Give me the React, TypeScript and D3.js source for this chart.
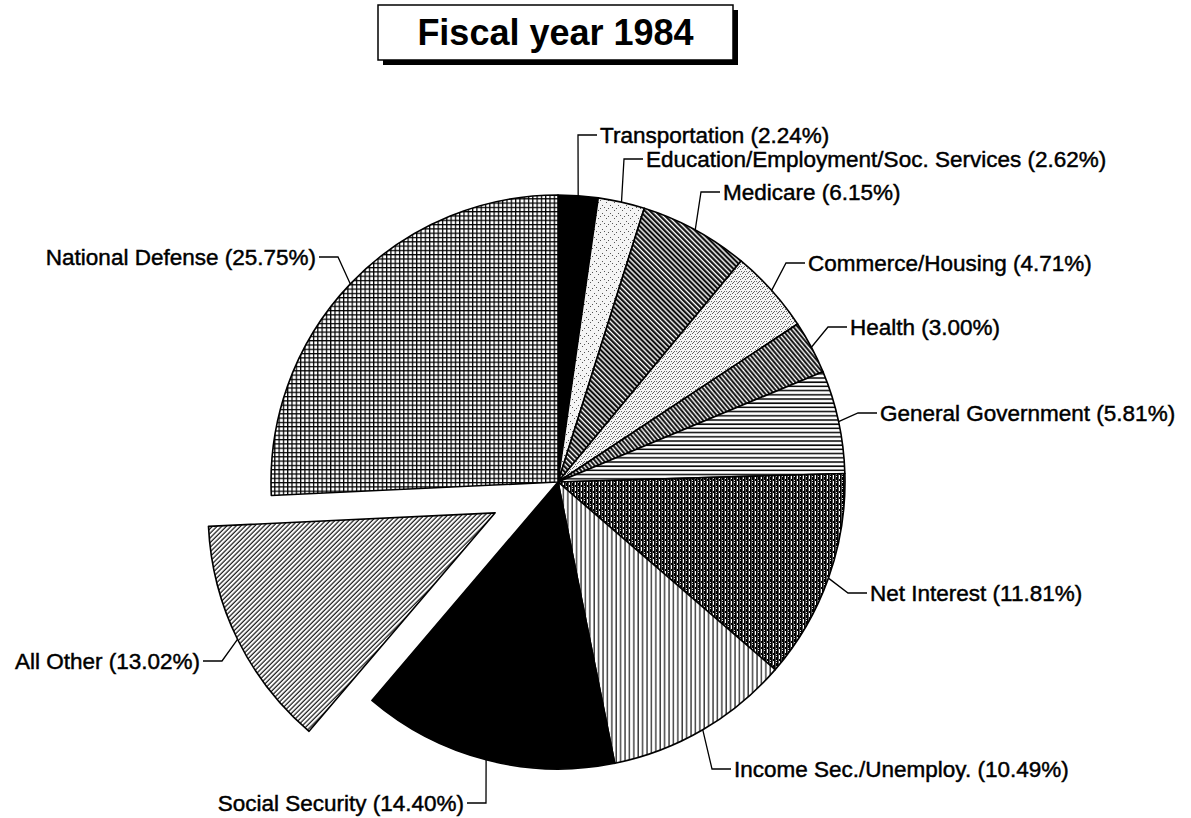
import React from 'react';
import * as d3 from 'd3';

const categories = [
  'Transportation',
  'Education/Employment/Soc. Services',
  'Medicare',
  'Commerce/Housing',
  'Health',
  'General Government',
  'Net Interest',
  'Income Sec./Unemploy.',
  'Social Security',
  'All Other',
  'National Defense',
];
const shares = [2.24, 2.62, 6.15, 4.71, 3.0, 5.81, 11.81, 10.49, 14.4, 13.02, 25.75];
const explodedCategories = ['All Other'];
const title = 'Fiscal year 1984';

// fill pattern per slice (layout/style)
const fills = [
  '#000',
  'url(#stippleA)',
  'url(#hatchDark)',
  'url(#stippleB)',
  'url(#hatchHealth)',
  'url(#horiz)',
  'url(#netInt)',
  'url(#vert)',
  '#000',
  'url(#diagFwd)',
  'url(#grid)',
];

// label elbow positions (layout)
const labelLayout = [
  { ex: 578, ey: 135, side: 1 },
  { ex: 624, ey: 159, side: 1 },
  { ex: 701, ey: 192, side: 1 },
  { ex: 786, ey: 263, side: 1 },
  { ex: 828, ey: 327, side: 1 },
  { ex: 858, ey: 413, side: 1 },
  { ex: 848, ey: 593, side: 1 },
  { ex: 712, ey: 769, side: 1 },
  { ex: 486, ey: 803, side: -1 },
  { ex: 222, ey: 661, side: -1 },
  { ex: 338, ey: 257, side: -1 },
];

const W = 1191;
const H = 818;
const cx = 558;
const cy = 482;
const R = 287;
const explodeDist = 70;
const FONT = "'Liberation Sans', Arial, Helvetica, sans-serif";

export default function App() {
  const pie = d3.pie<number>().sort(null).value((d) => d);
  const arcs = pie(shares);
  const arcGen = d3.arc<d3.PieArcDatum<number>>().innerRadius(0).outerRadius(R);

  const stippleA: [number, number][] = [[0, 0], [4, 3], [2, 6], [6, 5]];
  const stippleB: [number, number][] = [[0, 0], [2, 2], [4, 1], [1, 4], [3, 4]];

  return (
    <svg
      width={W}
      height={H}
      viewBox={`0 0 ${W} ${H}`}
      style={{ position: 'absolute', left: 0, top: 0, background: '#fff' }}
    >
      <defs>
        <pattern id="stippleA" width={8} height={8} patternUnits="userSpaceOnUse">
          <rect width={8} height={8} fill="#f4f4f4" />
          {stippleA.map(([x, y], i) => (
            <rect key={i} x={x} y={y} width={1} height={1} fill="#555" />
          ))}
        </pattern>
        <pattern id="stippleB" width={5} height={5} patternUnits="userSpaceOnUse">
          <rect width={5} height={5} fill="#f4f4f4" />
          {stippleB.map(([x, y], i) => (
            <rect key={i} x={x} y={y} width={1} height={1} fill="#666" />
          ))}
        </pattern>
        <pattern id="hatchDark" width={3.6} height={3.6} patternUnits="userSpaceOnUse" patternTransform="rotate(-45)">
          <rect width={3.6} height={3.6} fill="#fff" />
          <line x1={1.2} y1={0} x2={1.2} y2={3.6} stroke="#000" strokeWidth={2.1} />
        </pattern>
        <pattern id="hatchHealth" width={3.4} height={3.4} patternUnits="userSpaceOnUse" patternTransform="rotate(-40)">
          <rect width={3.4} height={3.4} fill="#fff" />
          <line x1={1.2} y1={0} x2={1.2} y2={3.4} stroke="#000" strokeWidth={1.9} />
        </pattern>
        <pattern id="horiz" width={4} height={4.2} patternUnits="userSpaceOnUse">
          <rect width={4} height={4.2} fill="#fff" />
          <line x1={0} y1={1} x2={4} y2={1} stroke="#000" strokeWidth={1.5} />
        </pattern>
        <pattern id="vert" width={4.4} height={4} patternUnits="userSpaceOnUse">
          <rect width={4.4} height={4} fill="#fff" />
          <line x1={1} y1={0} x2={1} y2={4} stroke="#000" strokeWidth={1.1} />
        </pattern>
        <pattern id="netInt" width={6} height={6} patternUnits="userSpaceOnUse">
          <rect width={6} height={6} fill="#fff" />
          <line x1={0.8} y1={0} x2={0.8} y2={6} stroke="#000" strokeWidth={1.8} />
          <line x1={3.8} y1={0} x2={3.8} y2={6} stroke="#000" strokeWidth={1.8} />
          <rect x={2} y={1} width={1} height={3} fill="#000" />
          <rect x={5} y={3} width={1} height={2} fill="#000" />
          <rect x={2} y={5} width={1} height={1} fill="#000" />
        </pattern>
        <pattern id="diagFwd" width={3.3} height={3.3} patternUnits="userSpaceOnUse" patternTransform="rotate(45)">
          <rect width={3.3} height={3.3} fill="#fff" />
          <line x1={1} y1={0} x2={1} y2={3.3} stroke="#000" strokeWidth={1.1} />
        </pattern>
        <pattern id="grid" width={4.3} height={4.3} patternUnits="userSpaceOnUse">
          <rect width={4.3} height={4.3} fill="#fff" />
          <line x1={0.6} y1={0} x2={0.6} y2={4.3} stroke="#000" strokeWidth={1.3} />
          <line x1={0} y1={0.6} x2={4.3} y2={0.6} stroke="#000" strokeWidth={1.3} />
        </pattern>
      </defs>

      {/* Title box */}
      <rect x={383} y={10} width={355} height={55} fill="#000" />
      <rect x={378} y={5} width={355} height={55} fill="#fff" stroke="#000" strokeWidth={1.5} />
      <text
        x={555.5}
        y={45}
        textAnchor="middle"
        fontFamily={FONT}
        fontWeight="bold"
        fontSize={36}
        fill="#000"
      >
        {title}
      </text>

      {/* Pie */}
      <g transform={`translate(${cx},${cy})`}>
        {arcs.map((a, i) => {
          const mid = (a.startAngle + a.endAngle) / 2;
          const off = explodedCategories.includes(categories[i]) ? explodeDist : 0;
          const dx = off * Math.sin(mid);
          const dy = -off * Math.cos(mid);
          return (
            <path
              key={categories[i]}
              d={arcGen(a) || ''}
              transform={`translate(${dx},${dy})`}
              fill={fills[i]}
              stroke="#000"
              strokeWidth={1.6}
              strokeLinejoin="round"
            />
          );
        })}
      </g>

      {/* Labels */}
      {arcs.map((a, i) => {
        const mid = (a.startAngle + a.endAngle) / 2;
        const off = explodedCategories.includes(categories[i]) ? explodeDist : 0;
        const px = cx + (R + off) * Math.sin(mid);
        const py = cy - (R + off) * Math.cos(mid);
        const L = labelLayout[i];
        const hx = L.ex + L.side * 19;
        const tx = L.ex + L.side * 22;
        return (
          <g key={'lbl' + i}>
            <polyline
              points={`${px},${py} ${L.ex},${L.ey} ${hx},${L.ey}`}
              fill="none"
              stroke="#000"
              strokeWidth={1.3}
            />
            <text
              x={tx}
              y={L.ey}
              dy="0.36em"
              textAnchor={L.side > 0 ? 'start' : 'end'}
              fontFamily={FONT}
              fontSize={22.5}
              fill="#000"
              stroke="#000"
              strokeWidth={0.45}
            >
              {`${categories[i]} (${shares[i].toFixed(2)}%)`}
            </text>
          </g>
        );
      })}
    </svg>
  );
}
